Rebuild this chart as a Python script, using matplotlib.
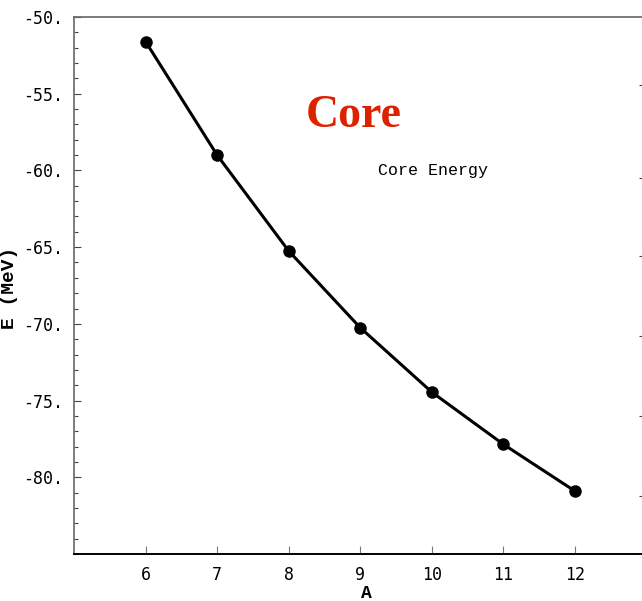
import matplotlib
matplotlib.use("Agg")
import matplotlib.pyplot as plt
from matplotlib.ticker import MultipleLocator

# Data
A = [6, 7, 8, 9, 10, 11, 12]
E = [-51.6, -59.0, -65.25, -70.25, -74.45, -77.85, -80.9]
x_ticks = [6, 7, 8, 9, 10, 11, 12]
y_ticks = [-50, -55, -60, -65, -70, -75, -80]
y_tick_labels = ["-50.", "-55.", "-60.", "-65.", "-70.", "-75.", "-80."]
right_ticks = [-54.43, -60.47, -65.6, -70.8, -76.0, -81.2]

fig = plt.figure(figsize=(6.42, 6.01), dpi=100)
ax = fig.add_axes([74/642, 47/601, (646.5-74)/642, (554-17)/601])

ax.plot(A, E, color="black", lw=2.2, marker="o", ms=8, mfc="black", mec="black")

ax.set_xlim(5, 13)
ax.set_ylim(-85, -50)

mono = "DejaVu Sans Mono"
ax.set_xticks(x_ticks)
ax.set_xticklabels([str(v) for v in x_ticks], family=mono, fontsize=12)
ax.set_yticks(y_ticks)
ax.set_yticklabels(y_tick_labels, family=mono, fontsize=12)
ax.yaxis.set_minor_locator(MultipleLocator(1))
ax.tick_params(axis="x", direction="in", length=6, width=0.8, color="#777777", pad=9)
ax.tick_params(axis="y", which="major", direction="in", length=5, width=0.8, color="#444444", pad=8)
ax.tick_params(axis="y", which="minor", direction="in", length=3, width=0.8, color="#444444")

for s in ["left", "top", "right"]:
    ax.spines[s].set_color("#666666")
    ax.spines[s].set_linewidth(1.2)
ax.spines["bottom"].set_color("black")
ax.spines["bottom"].set_linewidth(1.4)

ax2 = ax.twinx()
ax2.set_ylim(-85, -50)
ax2.set_yticks(right_ticks)
ax2.set_yticklabels([])
ax2.tick_params(axis="y", direction="in", length=6, width=0.8, color="#444444")
for s in ax2.spines.values():
    s.set_visible(False)

ax.set_xlabel("A", family="Liberation Mono", fontweight="bold", fontsize=13)
ax.xaxis.set_label_coords(0.511, -0.058)
fig.text(9/642, 1 - 288/601, "E (MeV)", rotation=90, ha="center", va="center",
         family="Liberation Mono", fontweight="bold", fontsize=14)

fig.text(354/642, 1 - 116/601, "Core", ha="center", va="center",
         family="Liberation Serif", fontweight="bold", fontsize=33, color="#dd2200")
fig.text(433/642, 1 - 171/601, "Core Energy", ha="center", va="center",
         family="Liberation Mono", fontsize=12, color="black")

fig.savefig("out.png", dpi=100)
